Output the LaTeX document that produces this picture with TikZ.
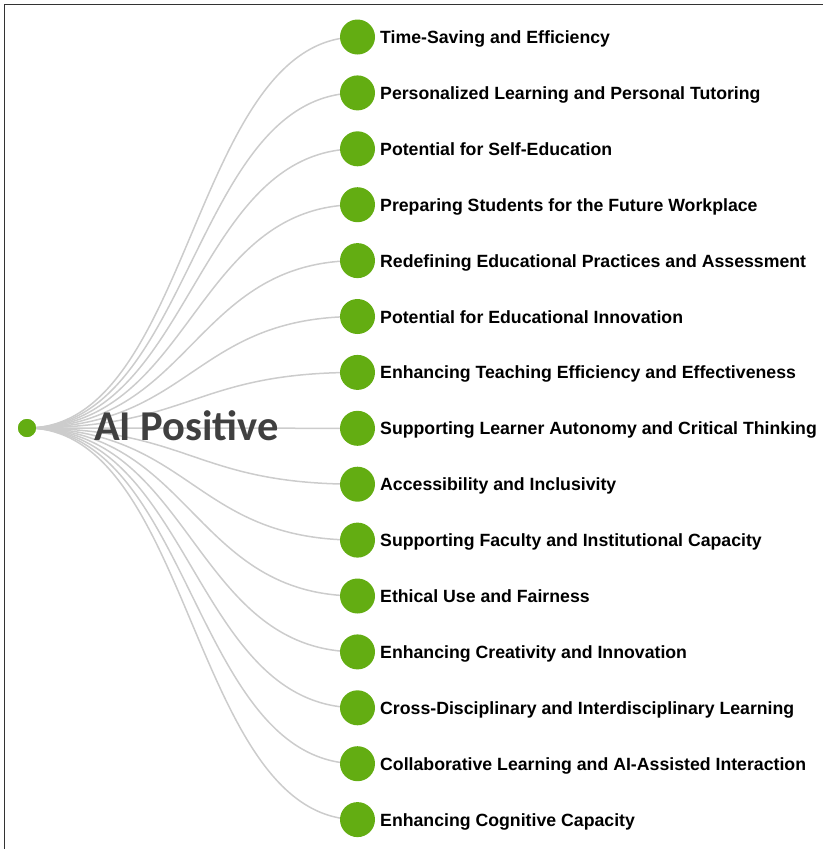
\documentclass[tikz,border=0pt]{standalone}
\usepackage{fontspec}
\setmainfont{Liberation Sans}
\newfontfamily\calib{Carlito}
\definecolor{leafgreen}{HTML}{63AD12}
\definecolor{linkgray}{HTML}{CCCCCC}
\definecolor{titlegray}{HTML}{404040}
\definecolor{framegray}{HTML}{333333}
\begin{document}
\begin{tikzpicture}[x=1pt,y=-1pt,
  link/.style={draw=linkgray,line width=1.5pt},
  leaf/.style={circle,fill=leafgreen,minimum size=35pt,inner sep=0pt},
  rootdot/.style={circle,fill=leafgreen,minimum size=18pt,inner sep=0pt},
  leaflabel/.style={anchor=base west,inner sep=0pt,font=\fontsize{17.7}{19}\selectfont\bfseries,text=black},
  title/.style={inner sep=0pt,font=\calib\fontsize{42.5}{45}\selectfont\bfseries,text=titlegray}]
\useasboundingbox (0,0) rectangle (823,849);
\draw[framegray,line width=1.8pt] (4.5,849) -- (4.5,4.5) -- (823,4.5);
\node[rootdot] (root) at (27,428) {};
\foreach \i in {0,...,14}{
  \pgfmathsetmacro{\yy}{37+55.9*\i}
  \coordinate (c\i) at (357.5,\yy);
  \draw[link] (root.center) .. controls (192,428) and (192,\yy) .. (c\i);
}
\node[title] (t) at (186.5,426) {AI Positive};
\node[rootdot] at (root) {};
\foreach \i/\t in {0/Time-Saving and Efficiency,
 1/Personalized Learning and Personal Tutoring,
 2/Potential for Self-Education,
 3/Preparing Students for the Future Workplace,
 4/Redefining Educational Practices and Assessment,
 5/Potential for Educational Innovation,
 6/Enhancing Teaching Efficiency and Effectiveness,
 7/Supporting Learner Autonomy and Critical Thinking,
 8/Accessibility and Inclusivity,
 9/Supporting Faculty and Institutional Capacity,
 10/Ethical Use and Fairness,
 11/Enhancing Creativity and Innovation,
 12/Cross-Disciplinary and Interdisciplinary Learning,
 13/Collaborative Learning and AI-Assisted Interaction,
 14/Enhancing Cognitive Capacity}{
  \node[leaf] (n\i) at (c\i) {};
  \node[leaflabel] (l\i) at ([xshift=22.5pt,yshift=-6.5pt]c\i) {\t};
}
\end{tikzpicture}
\end{document}
